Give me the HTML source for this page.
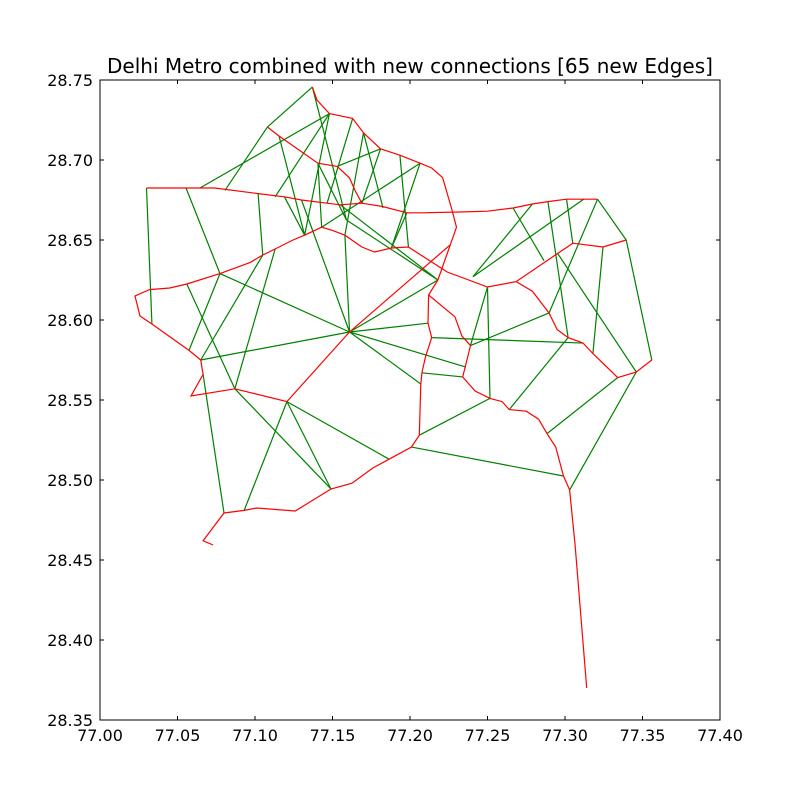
<!DOCTYPE html>
<html><head><meta charset="utf-8"><style>
body{margin:0;background:#fff;}
svg{display:block;font-family:"DejaVu Sans","Liberation Sans",sans-serif;}
</style></head><body>
<svg id="chart" width="800" height="800" viewBox="0 0 800 800" xmlns="http://www.w3.org/2000/svg">
<rect x="0" y="0" width="800" height="800" fill="#fff"/>
<text x="410" y="73" text-anchor="middle" font-size="20">Delhi Metro combined with new connections [65 new Edges]</text>
<g id="ticks"></g>
<g id="green"></g>
<g id="red"></g>
<rect x="100" y="80" width="620" height="640" fill="none" stroke="#000" stroke-width="1"/>
</svg>
<script>
const xTicks=[77.00,77.05,77.10,77.15,77.20,77.25,77.30,77.35,77.40];
const yTicks=[28.35,28.40,28.45,28.50,28.55,28.60,28.65,28.70,28.75];
const stationLon=[77.030,77.045,77.0555,77.0645,77.074,77.102,77.119,77.130,77.1465,77.155,77.169,77.182,77.198,77.208,77.232,77.250,77.2665,77.279,77.289,77.301,77.312,77.321,
77.137,77.140,77.148,77.163,77.170,77.181,77.1935,77.2065,77.214,77.221,77.227,77.230,77.226,77.161,77.1206,77.087,77.0587,77.0665,
77.108,77.1155,77.1406,77.153,77.161,77.1645,
77.0226,77.0258,77.0335,77.0574,77.065,
77.032,77.045,77.056,77.0774,77.097,77.105,77.113,77.1245,77.132,77.143,77.150,77.158,77.169,77.177,77.188,77.199,77.224,77.250,77.2685,77.305,77.3245,77.3395,
77.279,77.2897,77.295,77.302,77.3116,77.318,77.334,77.346,77.356,
77.218,77.212,77.229,77.2335,77.239,77.234,77.242,77.2516,77.2594,77.264,77.275,77.283,77.2884,77.294,77.299,77.303,77.3065,77.314,
77.2116,77.214,77.210,77.2077,77.207,77.206,77.201,77.1865,77.176,77.1626,77.149,77.126,77.101,77.080,77.0665,77.073,77.093,
77.0806,77.113,77.159,77.1826,77.236,77.2406,77.2865,77.295];
const stationLat=[28.6825,28.6825,28.6825,28.6825,28.6825,28.679,28.677,28.675,28.673,28.672,28.673,28.671,28.667,28.667,28.6675,28.668,28.670,28.6725,28.674,28.6755,28.6755,28.6755,
28.7456,28.7375,28.729,28.726,28.717,28.707,28.703,28.698,28.695,28.689,28.669,28.658,28.647,28.5925,28.549,28.557,28.5525,28.566,
28.7206,28.715,28.698,28.696,28.6888,28.681,
28.615,28.6025,28.5975,28.581,28.575,
28.619,28.620,28.6225,28.629,28.636,28.6406,28.6444,28.650,28.653,28.658,28.656,28.653,28.6456,28.6425,28.645,28.6456,28.630,28.6206,28.624,28.648,28.6456,28.650,
28.618,28.6044,28.594,28.589,28.5856,28.579,28.564,28.5675,28.575,
28.625,28.6156,28.602,28.590,28.584,28.5644,28.5556,28.551,28.549,28.544,28.543,28.538,28.529,28.5206,28.5025,28.4938,28.4594,28.370,
28.598,28.589,28.577,28.567,28.560,28.528,28.5206,28.513,28.5075,28.498,28.4944,28.4806,28.4825,28.4794,28.462,28.4594,28.481,
28.681,28.677,28.6625,28.670,28.5706,28.627,28.637,28.642];
const metroLines=[
[0,1,2,3,4,5,6,7,8,9,10,11,12,13,14,15,16,17,18,19,20,21],
[22,23,24,25,26,27,28,29,30,31,32,33,34,35,36,37,38,39,50,49,48,47,46,51,52,53,54,55,56,57,58,59,60,61,62,63,64,65,66,67,68,69,70,71,72],
[40,41,42,43,44,45,10],
[69,73,74,75,76,77,78,79,80,81],
[34,82,83,84,85,86,87,88,89,90,91,92,93,94,95,96,97,98,99],
[83,100,101,102,103,104,105,106,107,108,109,110,111,112,116,113,114,115]];
const newEdgeFrom=[22,40,3,24,24,22,41,42,42,25,26,43,27,26,28,29,29,12,6,7,62,9,119,5,0,2,54,54,53,37,56,57,50,39,36,36,36,35,35,35,35,103,105,106,101,86,68,86,74,122,122,16,18,19,124,21,72,71,76,79,80];
const newEdgeTo=[40,117,24,118,59,119,59,60,119,8,62,27,10,120,66,60,65,65,59,35,35,82,82,56,48,54,49,35,37,110,50,37,35,113,116,110,107,100,121,104,82,87,89,96,77,68,89,74,21,17,20,123,76,70,80,72,81,78,91,94,97];
const NS='http://www.w3.org/2000/svg';
const X0=100,X1=720,Y0=720,Y1=80;
function xs(v){return X0+(v-77.0)/(77.4-77.0)*(X1-X0);}
function ys(v){return Y0-(v-28.35)/(28.75-28.35)*(Y0-Y1);}
const tg=document.getElementById('ticks');
xTicks.forEach(t=>{
  const x=xs(t);
  const l1=document.createElementNS(NS,'line');
  l1.setAttribute('x1',x);l1.setAttribute('x2',x);l1.setAttribute('y1',720);l1.setAttribute('y2',716);l1.setAttribute('stroke','#000');
  
  
  tg.appendChild(l1);
  const l2=document.createElementNS(NS,'line');
  l2.setAttribute('x1',x);l2.setAttribute('x2',x);l2.setAttribute('y1',80);l2.setAttribute('y2',84);l2.setAttribute('stroke','#000');
  
  
  tg.appendChild(l2);
  const tx=document.createElementNS(NS,'text');
  tx.setAttribute('x',x);tx.setAttribute('y',741);tx.setAttribute('text-anchor','middle');tx.setAttribute('font-size','16');
  tx.textContent=t.toFixed(2);
  
  
  tg.appendChild(tx);
});
yTicks.forEach(t=>{
  const y=ys(t);
  const l1=document.createElementNS(NS,'line');
  l1.setAttribute('x1',100);l1.setAttribute('x2',104);l1.setAttribute('y1',y);l1.setAttribute('y2',y);l1.setAttribute('stroke','#000');
  
  
  tg.appendChild(l1);
  const l2=document.createElementNS(NS,'line');
  l2.setAttribute('x1',716);l2.setAttribute('x2',720);l2.setAttribute('y1',y);l2.setAttribute('y2',y);l2.setAttribute('stroke','#000');
  
  
  tg.appendChild(l2);
  const tx=document.createElementNS(NS,'text');
  tx.setAttribute('x',93);tx.setAttribute('y',y+6);tx.setAttribute('text-anchor','end');tx.setAttribute('font-size','16');
  tx.textContent=t.toFixed(2);
  
  
  tg.appendChild(tx);
});
const gg=document.getElementById('green');
for(let i=0;i<newEdgeFrom.length;i++){
  const a=newEdgeFrom[i],b=newEdgeTo[i];
  const l=document.createElementNS(NS,'line');
  l.setAttribute('x1',xs(stationLon[a]));l.setAttribute('y1',ys(stationLat[a]));
  l.setAttribute('x2',xs(stationLon[b]));l.setAttribute('y2',ys(stationLat[b]));
  l.setAttribute('stroke','#008000');l.setAttribute('stroke-width','1.2');
  
  
  gg.appendChild(l);
}
const rg=document.getElementById('red');
metroLines.forEach(seq=>{
  const p=document.createElementNS(NS,'polyline');
  p.setAttribute('points',seq.map(k=>xs(stationLon[k]).toFixed(1)+','+ys(stationLat[k]).toFixed(1)).join(' '));
  p.setAttribute('fill','none');p.setAttribute('stroke','#ff0000');p.setAttribute('stroke-width','1.2');
  
  
  rg.appendChild(p);
});
</script>
</body></html>
